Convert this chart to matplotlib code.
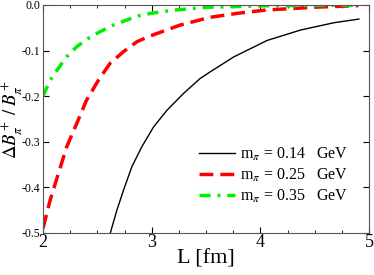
import numpy as np
import matplotlib
matplotlib.use('Agg')
import matplotlib.pyplot as plt
from matplotlib.ticker import MultipleLocator

plt.rcParams['font.family'] = ['Liberation Serif', 'DejaVu Serif']
plt.rcParams['mathtext.fontset'] = 'stix'

# m_pi = 0.14 GeV
L_014 = [2.617, 2.679, 2.740, 2.817, 2.909, 3.017, 3.14, 3.293, 3.447, 3.539,
         3.754, 4.06, 4.369, 4.676, 4.906]
dB_014 = [-0.502, -0.4505, -0.4066, -0.355, -0.311, -0.2675, -0.231, -0.194, -0.161, -0.1466,
          -0.114, -0.078, -0.055, -0.039, -0.031]

# m_pi = 0.25 GeV
L_025 = [2.0, 2.065, 2.141, 2.218, 2.31, 2.40, 2.51, 2.617, 2.74, 2.864,
         2.986, 3.263, 3.54, 3.8, 4.06, 4.5, 4.9]
dB_025 = [-0.49, -0.4286, -0.370, -0.311, -0.26, -0.209, -0.165, -0.128, -0.1026, -0.0806,
          -0.068, -0.044, -0.027, -0.018, -0.011, -0.005, -0.0015]

# m_pi = 0.35 GeV
L_035 = [2.0, 2.065, 2.141, 2.218, 2.31, 2.418, 2.525, 2.648, 2.771, 2.878,
         3.0, 3.2, 3.509, 4.0, 4.5, 4.9]
dB_035 = [-0.2, -0.165, -0.139, -0.1136, -0.0916, -0.073, -0.0586, -0.044, -0.033, -0.024,
          -0.018, -0.0115, -0.005, -0.002, -0.001, -0.0005]

labels = [r'm$_\pi$ = 0.14   GeV', r'm$_\pi$ = 0.25   GeV', r'm$_\pi$ = 0.35   GeV']

fig = plt.figure(figsize=(3.74, 2.75), dpi=100)
ax = fig.add_axes([0.115, 0.153, 0.872, 0.829])

ax.plot(L_014, dB_014, color='black', lw=1.0, label=labels[0])
ax.plot(L_025, dB_025, color='red', lw=2.5, dashes=(4, 2), label=labels[1])
ax.plot(L_035, dB_035, color='#00ee00', lw=2.5, dashes=(3.2, 2, 0.8, 2), label=labels[2])

ax.set_xlim(2, 5)
ax.set_ylim(-0.5, 0.0)
ax.xaxis.set_major_locator(MultipleLocator(1))
ax.xaxis.set_minor_locator(MultipleLocator(0.25))
ax.tick_params(which='both', direction='in', top=True, right=True)
ax.tick_params(which='major', length=4)
ax.tick_params(which='minor', length=2)
ax.tick_params(axis='x', labelsize=13, pad=1)
ax.tick_params(axis='y', labelsize=8.5, pad=2)
ax.set_yticks([-0.5, -0.4, -0.3, -0.2, -0.1, 0.0])
ax.set_yticklabels(['-0.5', '-0.4', '-0.3', '-0.2', '-0.1', '0.0'])
for s in ax.spines.values():
    s.set_color('#555555')

ax.set_xlabel('L [fm]', fontsize=16, labelpad=-1)
ax.set_ylabel(r'$\Delta B^+_\pi\;/\;B^+_\pi$', fontsize=13.5)
ax.yaxis.set_label_coords(-0.058, 0.5)

ax.legend(loc='lower right', frameon=False, fontsize=11.5, handlelength=2.3,
          bbox_to_anchor=(0.965, 0.08), labelspacing=0.25, handletextpad=0.3,
          borderaxespad=0.2)

plt.savefig('out.png', dpi=100)
